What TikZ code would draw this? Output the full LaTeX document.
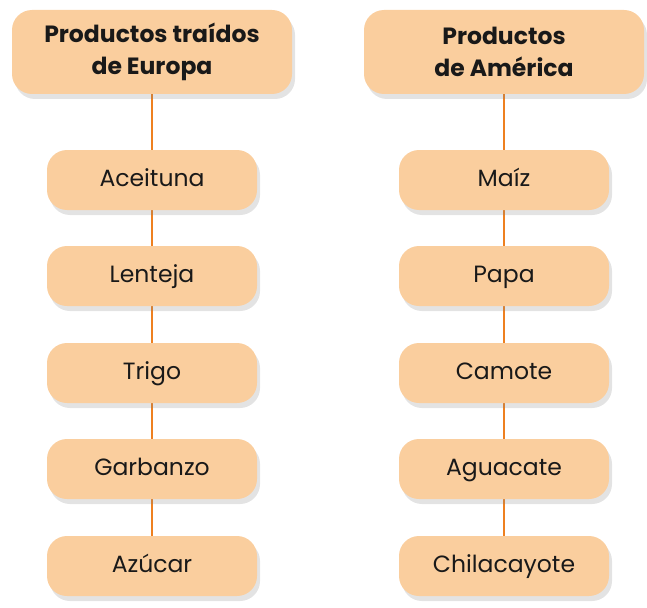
\documentclass[tikz,border=0pt]{standalone}
\usepackage{fontspec}
\setmainfont{Poppins}
\usepackage{tikz}
\usetikzlibrary{shadows,positioning}
\definecolor{boxfill}{RGB}{250,206,158}
\definecolor{linkline}{RGB}{238,128,32}
\tikzstyle{item}=[fill=boxfill, rounded corners=20pt, minimum width=210pt, minimum height=60pt, text height=17pt, text depth=5pt, font=\fontsize{23.5}{28}\selectfont, text=black!90, drop shadow={opacity=0.22, shadow xshift=3pt, shadow yshift=-5pt}]
\tikzstyle{head}=[item, text height=, text depth=, minimum width=280pt, minimum height=84pt, align=center, font=\fontsize{23.5}{32}\selectfont\bfseries]
\tikzstyle{link}=[draw=linkline, line width=1.3pt]

\begin{document}
\begin{tikzpicture}[x=1pt,y=-1pt]
\useasboundingbox (0,0) rectangle (647,607);
% lines first, boxes on top
\coordinate (eu) at (152,52);
\coordinate (am) at (504,52);
\foreach \n/\y in {1/180,2/276,3/373,4/469,5/566}{
  \coordinate (eu\n) at (152,\y);
  \coordinate (am\n) at (504,\y);
}
\draw[link] (eu) -- (eu5);
\draw[link] (am) -- (am5);
% Europa
\node[head] (europa) at (eu) {Productos traídos\\de Europa};
\node[item] (aceituna) at (eu1) {Aceituna};
\node[item] (lenteja) at (eu2) {Lenteja};
\node[item] (trigo) at (eu3) {Trigo};
\node[item] (garbanzo) at (eu4) {Garbanzo};
\node[item] (azucar) at (eu5) {Azúcar};
% America
\node[head] (america) at (am) {Productos\\de América};
\node[item] (maiz) at (am1) {Maíz};
\node[item] (papa) at (am2) {Papa};
\node[item] (camote) at (am3) {Camote};
\node[item] (aguacate) at (am4) {Aguacate};
\node[item] (chilacayote) at (am5) {Chilacayote};
\end{tikzpicture}
\end{document}
